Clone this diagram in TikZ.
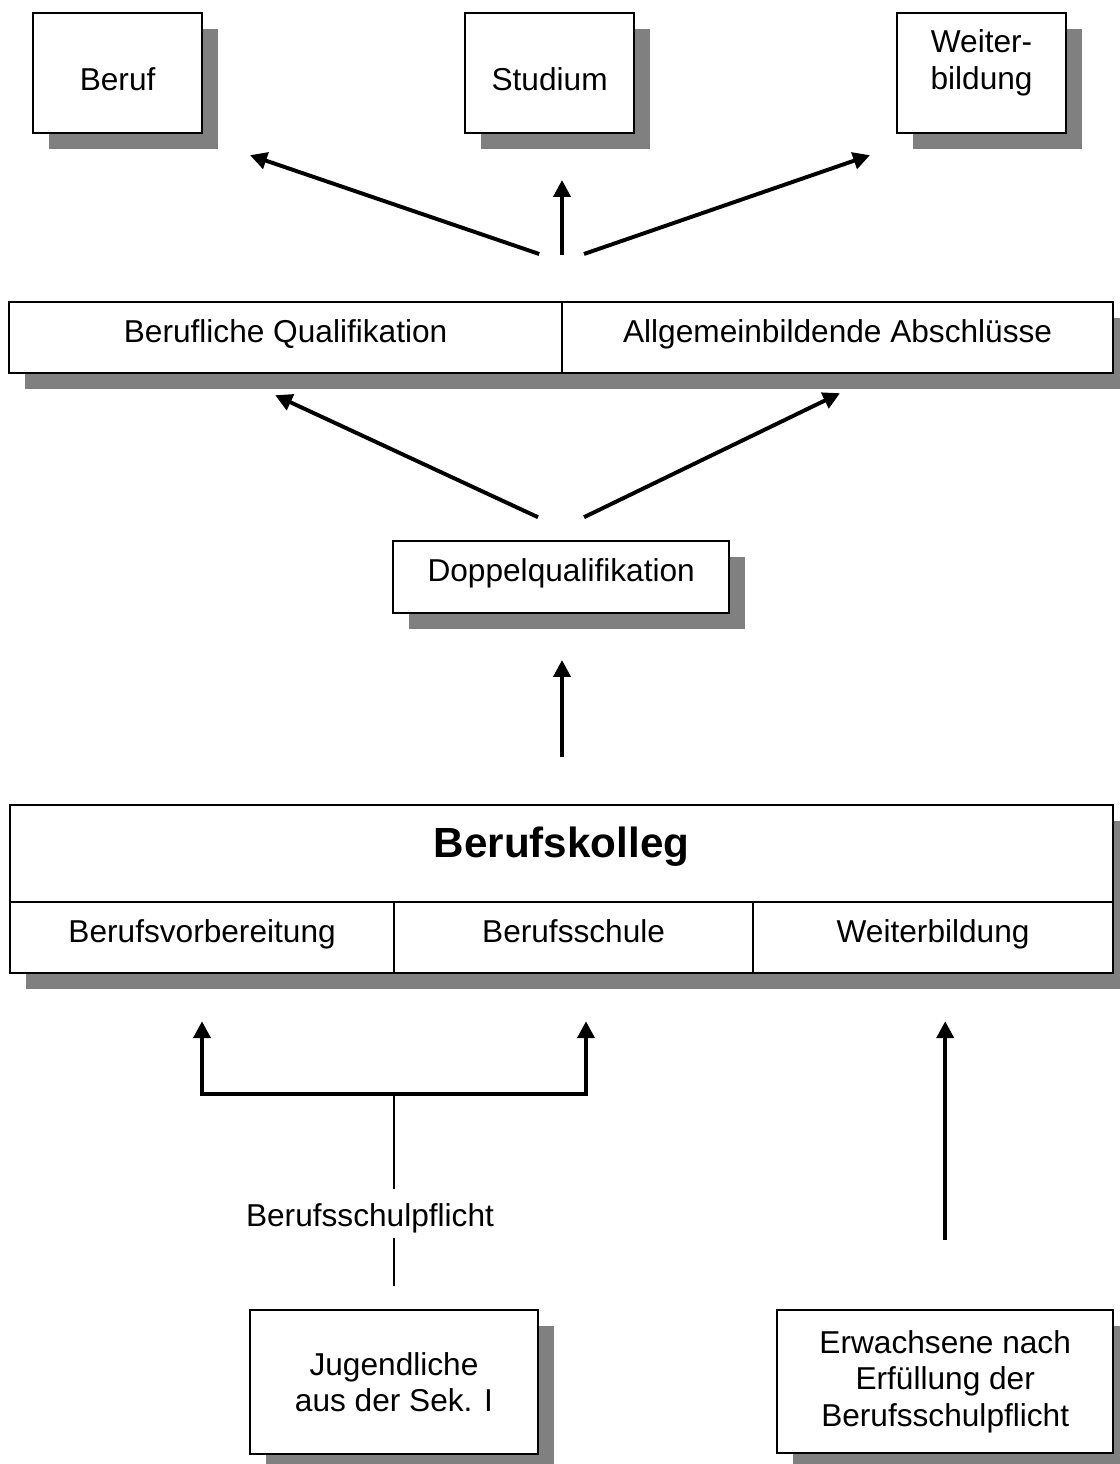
\documentclass[tikz,border=0pt]{standalone}
\usepackage{fontspec}
\setmainfont{Liberation Sans}
\usetikzlibrary{arrows.meta,shadows}

\begin{document}
\begin{tikzpicture}[
    box/.style={draw, fill=white, line width=1.4pt, inner sep=0pt, outer sep=0pt,
      font=\fontsize{22.5}{26}\selectfont, align=center,
      drop shadow={shadow xshift=0.4cm, shadow yshift=-0.4cm, fill=black!50, opacity=1}},
    cell/.style={box, minimum height=1.775cm, text height=0.6cm, text depth=0.38cm},
    arr/.style={line width=2.8pt, -{Triangle[length=12pt,width=12pt]}},
    thinline/.style={line width=1.2pt}]
  \useasboundingbox (0,0) rectangle (28,-36.6);

  % obere Reihe
  \node[box, minimum width=4.225cm, minimum height=3cm, text height=0.87cm, text depth=0cm] (beruf) at (2.94,-1.83) {Beruf};
  \node[box, minimum width=4.225cm, minimum height=3cm, text height=0.87cm, text depth=0cm] (studium) at (13.74,-1.83) {Studium};
  \node[box, minimum width=4.225cm, minimum height=3cm, text height=1.47cm, text depth=0.67cm] (weiter) at (24.54,-1.83) {Weiter-\\bildung};

  % Abschluesse
  \node[cell, minimum width=13.825cm] (bq) at (7.14,-8.44) {Berufliche Qualifikation};
  \node[cell, minimum width=13.775cm, anchor=west] (ab) at (bq.east) {Allgemeinbildende Abschlüsse};

  \node[cell, minimum width=8.4cm, minimum height=1.8cm] (dq) at (14.03,-14.43) {Doppelqualifikation};

  % Berufskolleg
  \node[box, minimum width=27.575cm, minimum height=2.425cm, font=\fontsize{30}{36}\selectfont\bfseries,
    text height=0.8cm, text depth=0.62cm] (bk) at (14.04,-21.34) {Berufskolleg};
  \node[cell, minimum width=9.6cm, anchor=north west] (bv) at (bk.south west) {Berufsvorbereitung};
  \node[cell, minimum width=8.975cm, anchor=north west] (bs) at (bv.north east) {Berufsschule};
  \node[cell, minimum width=9cm, anchor=north west] (wb) at (bs.north east) {Weiterbildung};

  % Zugaenge
  \node[box, minimum width=7.2cm, minimum height=3.6cm] (jug) at (9.85,-34.55) {Jugendliche\\aus der Sek. I};
  \node[box, minimum width=8.4cm, minimum height=3.575cm] (erw) at (23.63,-34.54) {Erwachsene nach\\Erfüllung der\\Berufsschulpflicht};
  \node[font=\fontsize{22.5}{26}\selectfont] (pfl) at (9.25,-30.45) {Berufsschulpflicht};

  \coordinate (ol) at (13.48,-6.35);
  \coordinate (om) at (14.05,-6.38);
  \coordinate (or) at (14.6,-6.35);
  \coordinate (tl) at (6.25,-3.88);
  \coordinate (tm) at (14.05,-4.5);
  \coordinate (tr) at (21.75,-3.88);
  \draw[arr] (ol) -- (tl);
  \draw[arr] (om) -- (tm);
  \draw[arr] (or) -- (tr);

  \coordinate (ml) at (13.45,-12.93);
  \coordinate (mr) at (14.6,-12.93);
  \coordinate (ql) at (6.88,-9.88);
  \coordinate (qr) at (21.0,-9.83);
  \draw[arr] (ml) -- (ql);
  \draw[arr] (mr) -- (qr);

  \coordinate (kd) at (14.05,-18.93);
  \coordinate (dd) at (14.05,-16.5);
  \draw[arr] (kd) -- (dd);

  % Gabel unten
  \coordinate (gl) at (5.05,-27.35);
  \coordinate (gr) at (14.65,-27.35);
  \coordinate (gm) at (9.85,-27.35);
  \coordinate (vt) at (5.05,-25.53);
  \coordinate (st) at (14.65,-25.53);
  \draw[line width=2.8pt, {Triangle[length=12pt,width=12pt]}-{Triangle[length=12pt,width=12pt]}]
    (vt) -- (gl) -- (gr) -- (st);
  \draw[thinline] (gm) -- (9.85,-29.73);
  \draw[thinline] (9.85,-30.95) -- (9.85,-32.15);

  \coordinate (eb) at (23.63,-31.0);
  \coordinate (wt) at (23.63,-25.53);
  \draw[arr] (eb) -- (wt);
\end{tikzpicture}
\end{document}
